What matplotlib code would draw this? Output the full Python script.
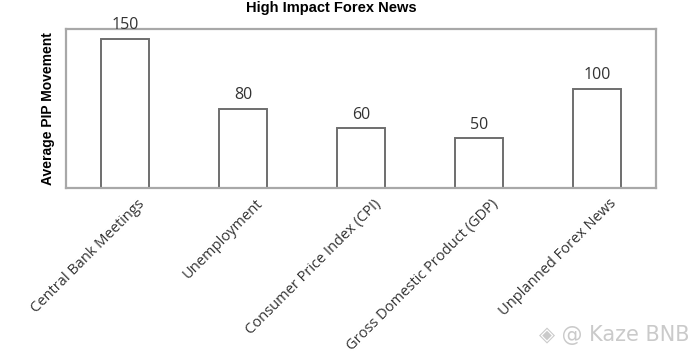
import matplotlib.pyplot as plt
import matplotlib.transforms as mtransforms
import numpy as np

# chart data
categories = ["Central Bank Meetings", "Unemployment", "Consumer Price Index (CPI)",
              "Gross Domestic Product (GDP)", "Unplanned Forex News"]
pip_movement = [150, 80, 60, 50, 100]

fig = plt.figure(figsize=(6.96, 3.6), dpi=100)
ax = fig.add_axes([0.0948, 0.4778, 0.8477, 0.4416])

x = np.arange(len(categories))
bars = ax.bar(x, pip_movement, width=0.41, color="white",
              edgecolor="#6e6e6e", linewidth=1.4)

# value labels above bars
for b, v in zip(bars, pip_movement):
    ax.annotate(str(v), (b.get_x() + b.get_width() / 2, b.get_height()),
                xytext=(0, 4), textcoords="offset points",
                ha="center", va="bottom", fontsize=11.5, family="Open Sans",
                color="#333333")

ax.set_xlim(-0.5, 4.5)
ax.set_ylim(0, 160)
ax.set_yticks([])
ax.set_xticks(x)
ax.set_xticklabels(categories, rotation=45, ha="right", rotation_mode="anchor",
                   fontsize=10.5, family="Open Sans", color="#333333")
ax.tick_params(axis="x", length=0, pad=6)

# nudge the rotated labels to the right, like the original
shift = mtransforms.ScaledTranslation(12 / 100, 0, fig.dpi_scale_trans)
for lbl in ax.get_xticklabels():
    lbl.set_transform(lbl.get_transform() + shift)

for s in ax.spines.values():
    s.set_color("#a8a8a8")
    s.set_linewidth(1.6)

ax.set_ylabel("Average PIP Movement", fontsize=10, fontweight="bold",
              family="Liberation Sans", labelpad=8)

fig.text(0.476, 0.978, "High Impact Forex News", ha="center", va="center",
         fontsize=10.5, fontweight="bold", family="Liberation Sans")

# watermark
fig.text(0.99, 0.07, "\u25c8 @ Kaze BNB", ha="right", va="center", fontsize=15,
         family="DejaVu Sans", color="#cacaca")

fig.savefig("out.png", dpi=100)
